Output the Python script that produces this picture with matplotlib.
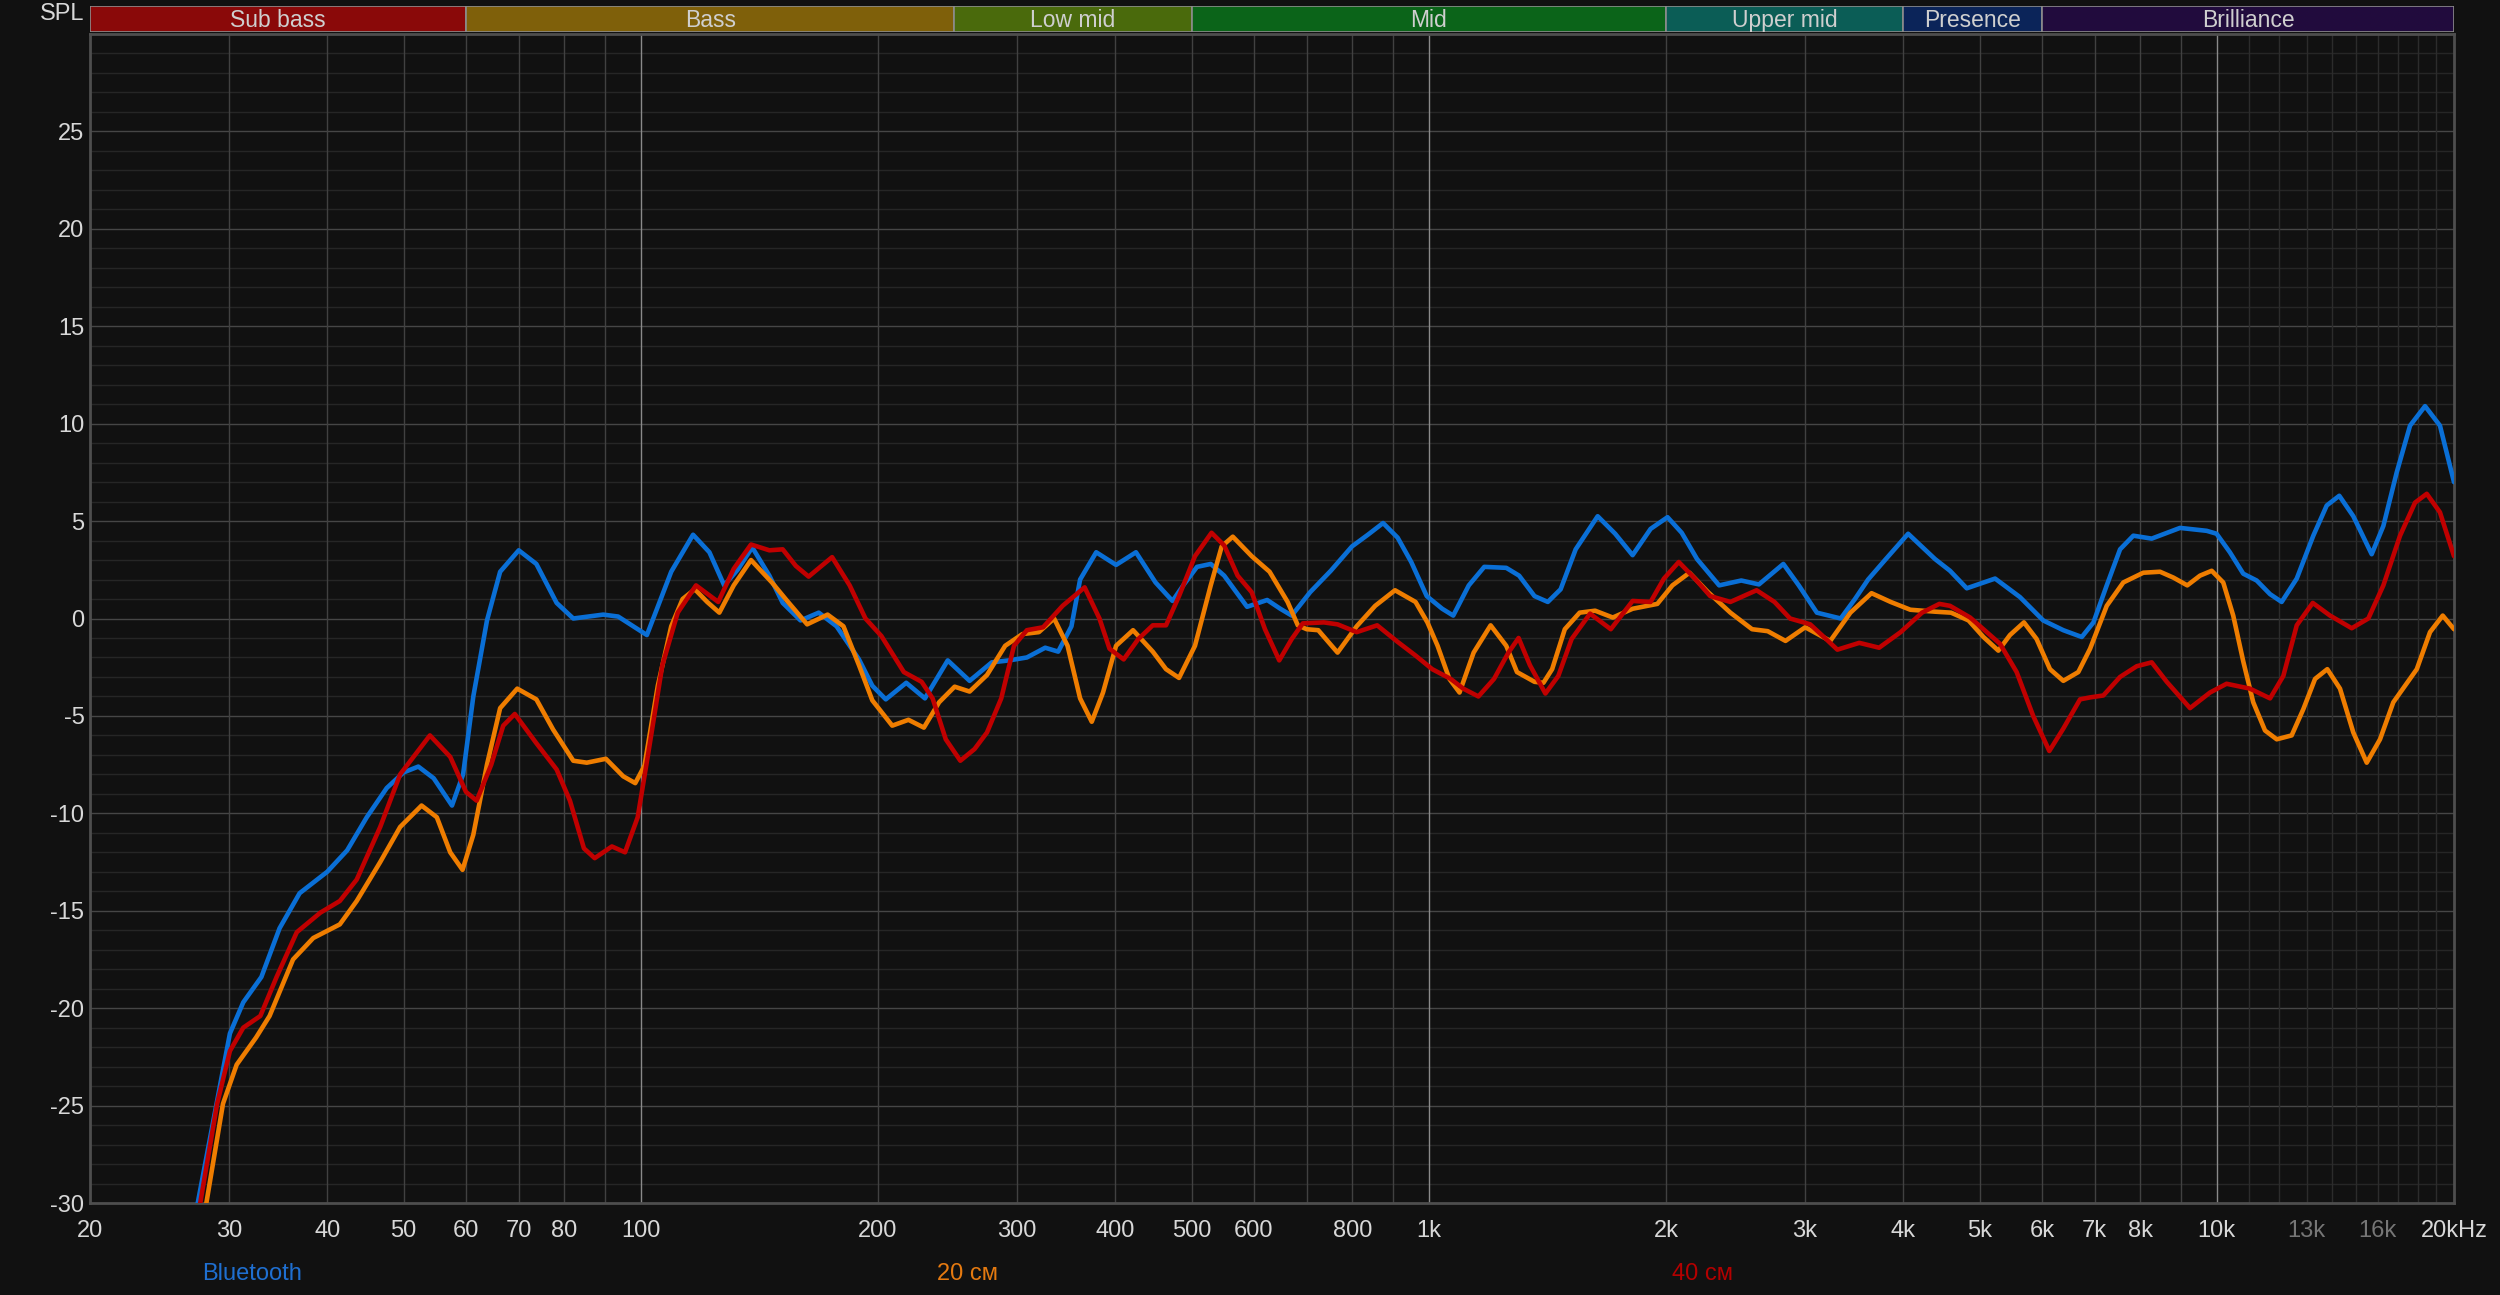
import matplotlib
matplotlib.use("Agg")
import matplotlib.pyplot as plt
from matplotlib.ticker import NullLocator

# --- frequency bands shown along the top ---
band_names = ["Sub bass", "Bass", "Low mid", "Mid", "Upper mid", "Presence", "Brilliance"]
band_edges = [20, 60, 250, 500, 2000, 4000, 6000, 20000]
band_colors = ["#8a0909", "#7f600a", "#4a6a0c", "#0b6419", "#0b5d56", "#0b2459", "#210b3d"]

# --- axis ticks ---
x_ticks = [20, 30, 40, 50, 60, 70, 80, 100, 200, 300, 400, 500, 600, 800, 1000,
           2000, 3000, 4000, 5000, 6000, 7000, 8000, 10000, 13000, 16000, 20000]
x_labels = ["20", "30", "40", "50", "60", "70", "80", "100", "200", "300", "400", "500",
            "600", "800", "1k", "2k", "3k", "4k", "5k", "6k", "7k", "8k", "10k", "13k",
            "16k", "20kHz"]
dim_labels = ["13k", "16k"]
y_ticks = [-30, -25, -20, -15, -10, -5, 0, 5, 10, 15, 20, 25]

bt_freq = [26.5, 27.4, 30.1, 31.3, 33.0, 34.8, 36.9, 40, 42.4, 44.9, 47.6, 50, 52.2, 54.6,
           57.6, 59.5, 61.3, 63.8, 66.3, 70, 73.7, 78.2, 82.1, 89.6, 93.6, 101.8, 109.3,
           116.5, 122.2, 127.6, 132.7, 138.5, 145.6, 151.4, 159.5, 168.2, 177.2, 189.2,
           196.7, 204.6, 217.2, 229.4, 245.2, 261.4, 278.9, 293.5, 309, 326, 338.6, 352,
           361, 378.4, 401, 425, 450, 472.9, 488, 508, 528.8, 550, 588, 623.6, 648, 670,
           707, 751, 799, 837, 875, 913, 950, 994, 1040, 1074, 1124, 1176, 1254, 1302,
           1362, 1416, 1470, 1536, 1638, 1724, 1814, 1912, 2009, 2094, 2190, 2336, 2492,
           2624, 2818, 2948, 3108, 3332, 3474, 3610, 3802, 4058, 4390, 4586, 4816, 5232,
           5626, 6022, 6386, 6740, 6974, 7250, 7538, 7836, 8268, 8982, 9710, 9994, 10390,
           10804, 11236, 11684, 12088, 12632, 13258, 13788, 14304, 14902, 15724, 16270,
           16918, 17590, 18378, 19196, 20000]
bt_db = [-33, -30, -21.3, -19.7, -18.4, -15.9, -14.1, -13.0, -11.9, -10.2, -8.7, -7.9, -7.6,
         -8.2, -9.6, -8.0, -4.0, -0.1, 2.4, 3.5, 2.8, 0.8, 0.0, 0.2, 0.1, -0.85, 2.4, 4.3,
         3.4, 1.7, 2.5, 3.65, 2.2, 0.8, -0.1, 0.3, -0.4, -2.1, -3.45, -4.15, -3.3, -4.1,
         -2.15, -3.2, -2.25, -2.15, -2.0, -1.5, -1.7, -0.4, 2.0, 3.4, 2.75, 3.4, 1.85, 0.9,
         1.7, 2.65, 2.8, 2.2, 0.6, 0.95, 0.5, 0.15, 1.35, 2.45, 3.7, 4.3, 4.9, 4.15, 2.9,
         1.15, 0.5, 0.15, 1.7, 2.65, 2.6, 2.2, 1.15, 0.85, 1.5, 3.55, 5.25, 4.35, 3.25, 4.6,
         5.2, 4.4, 3.05, 1.7, 1.95, 1.75, 2.8, 1.7, 0.3, 0.0, 1.0, 2.0, 3.05, 4.35, 3.05,
         2.45, 1.55, 2.05, 1.1, -0.1, -0.6, -0.95, -0.2, 1.7, 3.55, 4.25, 4.1, 4.65, 4.5,
         4.35, 3.4, 2.3, 1.95, 1.25, 0.85, 2.05, 4.25, 5.8, 6.3, 5.25, 3.3, 4.75, 7.5, 9.9,
         10.9, 9.9, 7.0]

cm20_freq = [27.0, 28.1, 29.5, 30.7, 32.5, 33.8, 36.2, 38.4, 41.5, 43.6, 46.7, 49.5, 52.7,
             55.1, 57.3, 59.4, 61.3, 63.8, 66.3, 69.7, 73.7, 77.4, 82.1, 85.4, 90.3, 95.0,
             98.4, 101.1, 105.1, 109.3, 113, 117.1, 121.4, 125.8, 131.2, 138, 146.7, 153.4,
             162.6, 172.6, 180.8, 189.2, 196.7, 208.5, 218.6, 228.7, 239.1, 250.2, 261.4,
             275, 290, 305, 320, 334.6, 348, 361, 373.5, 386, 401, 421.4, 446.4, 464, 482,
             505, 528.8, 546, 564, 596, 628, 662, 682, 700, 724, 766, 810, 855, 906, 962,
             996, 1026, 1062, 1094, 1140, 1198, 1254, 1294, 1362, 1398, 1434, 1488, 1554,
             1626, 1712, 1814, 1950, 2038, 2142, 2262, 2414, 2572, 2692, 2836, 3004, 3232,
             3428, 3646, 3856, 4084, 4390, 4600, 4842, 5057, 5282, 5464, 5692, 5906, 6142,
             6386, 6672, 6906, 7250, 7610, 8068, 8472, 8808, 9174, 9522, 9852, 10190, 10492,
             10804, 11124, 11514, 11914, 12446, 12878, 13326, 13812, 14334, 14902, 15498,
             16112, 16750, 17940, 18646, 19352, 20000]
cm20_db = [-33, -30, -24.9, -22.9, -21.5, -20.4, -17.5, -16.4, -15.7, -14.5, -12.5, -10.7,
           -9.6, -10.2, -12.0, -12.9, -11.1, -7.5, -4.6, -3.6, -4.15, -5.7, -7.3, -7.4, -7.2,
           -8.1, -8.45, -7.55, -3.45, -0.4, 1.0, 1.5, 0.85, 0.3, 1.7, 3.0, 1.85, 0.9, -0.3,
           0.2, -0.4, -2.4, -4.2, -5.5, -5.2, -5.6, -4.3, -3.5, -3.75, -2.9, -1.4, -0.8, -0.7,
           0.0, -1.4, -4.1, -5.3, -3.8, -1.4, -0.6, -1.7, -2.6, -3.05, -1.4, 1.7, 3.7, 4.2,
           3.2, 2.4, 0.85, -0.35, -0.55, -0.6, -1.75, -0.4, 0.65, 1.45, 0.85, -0.2, -1.4,
           -3.1, -3.8, -1.75, -0.35, -1.4, -2.75, -3.25, -3.3, -2.6, -0.55, 0.3, 0.4, 0.05,
           0.5, 0.75, 1.7, 2.35, 1.35, 0.3, -0.55, -0.65, -1.15, -0.45, -1.15, 0.3, 1.3, 0.85,
           0.45, 0.35, 0.3, -0.1, -0.95, -1.65, -0.85, -0.2, -1.05, -2.6, -3.2, -2.75, -1.55,
           0.65, 1.85, 2.35, 2.4, 2.1, 1.7, 2.2, 2.45, 1.85, 0.15, -2.2, -4.3, -5.75, -6.2,
           -6.0, -4.65, -3.1, -2.6, -3.6, -5.85, -7.4, -6.2, -4.3, -2.6, -0.7, 0.15, -0.55]

cm40_freq = [26.8, 27.6, 29.0, 30.1, 31.3, 32.9, 34.5, 36.6, 39.2, 41.5, 43.6, 46.7, 49.5,
             54.0, 57.3, 60.0, 61.9, 64.6, 66.9, 69.2, 73.7, 78.2, 81.3, 84.7, 87.4, 91.9,
             95.5, 99.1, 102.6, 106.5, 111.4, 117.5, 125.4, 131.2, 138, 145.6, 151.4, 157.3,
             163.3, 174.9, 184.1, 192.8, 202, 215.7, 227.2, 234.6, 243.8, 254.4, 265.2, 275,
             286.7, 297.6, 309, 324, 343, 365.8, 382, 393.4, 410, 428, 446.4, 464, 482, 505,
             530, 550, 572, 596, 619.6, 646, 670, 692, 736, 766, 810, 860, 913, 962, 1010,
             1066, 1106, 1156, 1210, 1262, 1300, 1344, 1406, 1460, 1518, 1602, 1702, 1814,
             1912, 1988, 2076, 2176, 2276, 2414, 2606, 2746, 2874, 3048, 3192, 3300, 3518,
             3728, 3970, 4226, 4446, 4586, 4864, 5057, 5308, 5572, 5848, 6130, 6386, 6706,
             6906, 7178, 7538, 7914, 8268, 8640, 9248, 9804, 10290, 11018, 11684, 12146,
             12632, 13236, 13922, 14834, 15570, 16270, 17082, 17850, 18470, 19196, 20000]
cm40_db = [-33, -30, -24.9, -22.2, -21.0, -20.4, -18.4, -16.1, -15.1, -14.5, -13.4, -10.7,
           -8.0, -6.0, -7.1, -8.9, -9.35, -7.5, -5.5, -4.9, -6.4, -7.75, -9.35, -11.8, -12.3,
           -11.7, -12.0, -10.2, -6.5, -2.4, 0.3, 1.7, 0.85, 2.55, 3.8, 3.5, 3.55, 2.7, 2.15,
           3.15, 1.7, 0.0, -0.9, -2.75, -3.25, -4.1, -6.2, -7.3, -6.7, -5.85, -4.1, -1.4,
           -0.6, -0.45, 0.65, 1.6, 0.0, -1.55, -2.1, -1.05, -0.35, -0.35, 1.15, 3.2, 4.4,
           3.75, 2.2, 1.35, -0.55, -2.15, -1.05, -0.25, -0.2, -0.3, -0.7, -0.35, -1.2, -1.9,
           -2.6, -3.1, -3.6, -4.0, -3.1, -1.75, -1.0, -2.4, -3.85, -2.95, -1.05, 0.25, -0.55,
           0.9, 0.85, 2.05, 2.9, 2.05, 1.15, 0.85, 1.45, 0.85, 0.0, -0.3, -1.05, -1.6, -1.25,
           -1.5, -0.7, 0.3, 0.75, 0.65, 0.05, -0.55, -1.3, -2.75, -5.0, -6.8, -5.65, -4.15,
           -4.05, -3.95, -3.0, -2.45, -2.25, -3.25, -4.6, -3.8, -3.35, -3.6, -4.1, -2.95,
           -0.35, 0.8, 0.15, -0.5, 0.0, 1.7, 4.25, 5.95, 6.4, 5.45, 3.2]

series_names = ["Bluetooth", "20 см", "40 см"]

BG = "#111111"
W, H = 2500, 1295
LINE_COLORS = ["#0a6fd6", "#ef7d00", "#c00000"]
TEXT_COLORS = ["#1f6fd0", "#e57a10", "#b40000"]

plt.rcParams["font.family"] = ["Liberation Sans", "DejaVu Sans"]

fig = plt.figure(figsize=(W / 100, H / 100), dpi=100, facecolor=BG)

# main response plot
ax = fig.add_axes([90 / W, 1 - 1203 / H, 2364 / W, 1169 / H], facecolor=BG)
ax.set_xscale("log")
ax.set_xlim(20, 20000)
ax.set_ylim(-30, 30)

# horizontal grid: every dB, brighter every 5 dB
for db in range(-29, 30):
    ax.axhline(db, color="#464646" if db % 5 == 0 else "#262626", lw=1.0, zorder=0)

# vertical grid: 1..9 per decade, decade lines brighter, 11k..19k dim
for decade in (10, 100, 1000, 10000):
    for m in range(1, 10):
        f = decade * m
        if f <= 20 or f >= 20000:
            continue
        if m == 1:
            ax.axvline(f, color="#8a8a8a", lw=1.0, zorder=0)
        elif decade == 10000:
            continue
        else:
            ax.axvline(f, color="#414141", lw=1.0, zorder=0)
for k in range(11, 20):
    ax.axvline(k * 1000, color="#2c2c2c", lw=1.0, zorder=0)

for freq, db, col in zip([bt_freq, cm20_freq, cm40_freq], [bt_db, cm20_db, cm40_db], LINE_COLORS):
    ax.plot(freq, db, color=col, lw=3.3, solid_joinstyle="round",
            solid_capstyle="round", zorder=3)

ax.set_xticks(x_ticks)
ax.set_xticklabels(x_labels)
ax.xaxis.set_minor_locator(NullLocator())
ax.set_yticks(y_ticks)
ax.set_yticklabels([str(v) for v in y_ticks])
ax.tick_params(axis="both", length=0, labelsize=17, colors="#d8d8d8")
ax.tick_params(axis="x", pad=12)
ax.tick_params(axis="y", pad=4)
for lab in ax.get_xticklabels():
    if lab.get_text() in dim_labels:
        lab.set_color("#767676")

for side in ("left", "bottom", "right", "top"):
    ax.spines[side].set_color("#4e4e4e")
    ax.spines[side].set_linewidth(2.0)

# band header
bax = fig.add_axes([90 / W, 1 - 32 / H, 2364 / W, 26 / H], facecolor=BG)
bax.set_xscale("log")
bax.set_xlim(20, 20000)
bax.set_ylim(0, 1)
bax.axis("off")
for name, lo, hi, col in zip(band_names, band_edges[:-1], band_edges[1:], band_colors):
    bax.axvspan(lo, hi, facecolor=col, edgecolor="#8c8c8c", lw=1.2)
    bax.text((lo * hi) ** 0.5, 0.45, name, ha="center", va="center",
             color="#cfcfcf", fontsize=16.5)

fig.text(84 / W, 1 - 14 / H, "SPL", ha="right", va="center", color="#d8d8d8", fontsize=17)

# legend under the axis
for name, x0, col in zip(series_names, [202, 937, 1672], TEXT_COLORS):
    fig.text(x0 / W, 1 - 1274 / H, name, ha="left", va="center", color=col, fontsize=17)

fig.savefig("out.png", dpi=100, facecolor=BG)
